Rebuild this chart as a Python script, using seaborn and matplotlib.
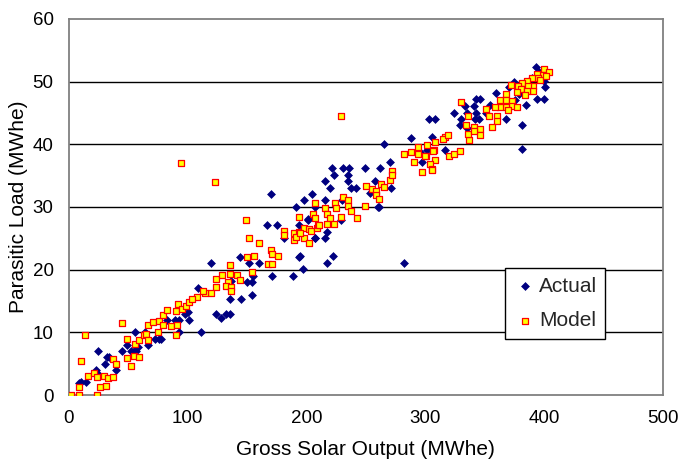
import numpy as np
import pandas as pd
import matplotlib
matplotlib.use("Agg")
import matplotlib.pyplot as plt
import seaborn as sns

# === Data (Gross Solar Output vs Parasitic Load, MWhe) ===
actual_x = [9, 10, 14.5, 22.6, 23.5, 25, 30.5, 32, 34, 39.5, 45, 49, 52, 55, 57, 55.5, 58, 64, 73, 76, 78, 67,
            83, 89.5, 93, 93, 98, 100, 101, 111, 124, 132, 136, 128,
            170, 205, 198, 191, 201.5, 167, 175, 181, 207, 194, 203, 144.5, 160, 152, 120, 194, 197, 189, 171,
            155, 154, 150, 154, 137, 109, 145, 136,
            265, 270.5, 262, 249, 236, 231, 222, 223, 235.5, 216, 235, 258, 220, 238, 242, 271, 216, 207, 260,
            229, 217, 216, 207, 230, 253.7, 261, 201, 222.8, 217, 194.6, 282,
            288, 303, 308, 306, 301.5, 317, 297, 296,
            393.5, 397, 400, 401, 375, 370.5, 394, 400, 385, 359.5, 375.5, 367, 355, 346.5, 343, 341.5, 334,
            343, 351.5, 335, 324, 330, 342, 345, 368, 329, 335, 343, 381.5, 382, 390, 388, 379, 396]
actual_y = [1.9, 2.1, 2.0, 4.0, 3.5, 7.0, 4.9, 6.0, 6.0, 4.0, 7.0, 8.0, 7.1, 7.1, 7.1, 10.1, 7.7, 10.1, 9.0, 9.0, 9.0, 8.0,
            12.0, 12.0, 12.0, 10.1, 13.0, 13.3, 12.0, 10.0, 13.0, 13.0, 13.0, 12.3,
            32.1, 32.1, 31.1, 30.0, 28.1, 27.1, 27.1, 25.0, 25.1, 27.1, 26.3, 22.0, 21.1, 21.0, 21.0, 22.0, 20.1, 19.0, 19.0,
            19.0, 18.1, 18.1, 16.0, 18.2, 17.1, 15.3, 15.3,
            40.1, 37.1, 36.2, 36.2, 36.2, 36.2, 36.2, 35.1, 35.1, 34.1, 34.1, 34.1, 33.1, 33.1, 33.1, 33.1, 31.1, 30.0, 30.0,
            28.0, 26.0, 25.1, 25.1, 31.1, 32.2, 30.0, 28.0, 22.1, 21.0, 22.1, 21.0,
            41.0, 44.1, 44.1, 41.1, 39.1, 39.1, 37.1, 38.8,
            52.3, 50.9, 50.1, 49.2, 49.9, 49.1, 47.2, 47.2, 46.2, 48.2, 47.1, 46.1, 46.3, 47.2, 47.2, 46.1, 46.1,
            45.0, 45.0, 45.0, 45.0, 44.1, 44.1, 44.1, 44.1, 43.1, 42.6, 42.3, 43.1, 39.2, 50.5, 49.0, 48.0, 51.5]

model_x = [2, 9, 24, 9, 26, 31, 16, 21, 24, 30, 33, 37, 10, 14, 37, 40, 45, 49, 49, 52, 55, 59, 56, 59, 63, 65, 67,
           67, 71, 76, 79, 75, 79, 83, 86, 90, 91, 92, 90, 95, 99, 101,
           94.5, 123, 149.5, 152, 160, 170, 171, 176, 156, 150, 168, 171, 136, 124, 129, 134, 136, 142, 144, 154,
           124, 132, 137, 137, 120, 115, 113, 108, 103.5, 181, 181, 190, 190, 194, 191, 194, 198, 198, 202, 202,
           204, 205.5, 207, 209, 207, 210,
           229, 224, 225, 231, 235.5, 235.5, 238, 216, 217, 220, 229, 242.5, 249.5, 217, 223, 210.5, 195, 250, 255,
           259, 263, 265, 258.5, 261.5, 270.5, 272, 272,
           282, 288, 294, 294, 291, 317, 315.5, 308.5, 307.5, 301, 308.5, 320, 304, 306, 301.5, 307, 300, 297, 306,
           324, 329, 337, 319,
           400, 404, 399, 394, 395, 390, 386, 381.5, 378, 372, 381, 391, 387, 391, 386, 377, 384, 368, 363, 368,
           373.5, 373, 377, 368, 363, 359, 351.5, 370, 330.5, 354, 360.5, 360.5, 336.5, 334.5, 341.5, 346.5,
           346.5, 336, 341.5, 356.5, 397, 402]
model_y = [0, 0, 0, 1.3, 1.3, 1.5, 3.0, 3.5, 2.8, 3.0, 2.7, 2.9, 5.5, 9.5, 5.7, 4.9, 11.5, 8.9, 5.9, 4.7, 6.3, 6.0, 8.1, 8.8, 9.6, 9.7, 8.8,
           11.2, 11.6, 11.8, 12.8, 10.1, 11.1, 13.6, 11.0, 13.4, 11.1, 14.6, 9.5, 13.8, 14.2, 14.9,
           37.0, 34.0, 28.0, 25.0, 24.3, 23.2, 22.5, 22.2, 22.1, 22.0, 20.9, 20.9, 20.8, 18.5, 19.1, 18.0, 19.3, 19.2, 18.4, 19.6,
           17.3, 17.4, 17.2, 16.6, 16.2, 16.2, 16.6, 15.6, 15.3, 26.2, 25.5, 25.9, 24.7, 26.0, 25.2, 28.4, 26.7, 25.1, 26.5, 24.3,
           26.2, 28.8, 28.2, 26.6, 30.6, 27.1,
           44.5, 30.6, 29.9, 31.6, 31.1, 30.1, 29.4, 29.9, 28.8, 28.3, 28.4, 28.3, 30.1, 27.3, 27.3, 27.1, 25.9, 33.3, 32.9,
           32.6, 33.7, 33.2, 31.9, 31.2, 34.3, 35.7, 35.1,
           38.5, 38.8, 39.5, 38.5, 37.1, 41.1, 40.8, 40.4, 39.1, 38.1, 37.5, 38.1, 36.8, 36.1, 39.9, 39.0, 38.2, 35.6, 35.9,
           38.5, 39.0, 40.7, 41.5,
           52.0, 51.6, 51.0, 51.2, 50.6, 50.5, 50.1, 49.8, 49.3, 49.4, 48.8, 49.3, 49.3, 48.5, 48.5, 48.4, 47.8, 48.1, 47.1, 47.1,
           46.9, 46.1, 45.9, 46.0, 45.9, 45.9, 45.7, 45.5, 46.8, 44.5, 44.5, 43.7, 44.5, 43.1, 42.8, 42.4,
           41.5, 41.7, 42.1, 42.8, 50.2, 50.9]

x_ticks = [0, 100, 200, 300, 400, 500]
y_ticks = [0, 10, 20, 30, 40, 50, 60]

df_actual = pd.DataFrame({"Gross": actual_x, "Parasitic": actual_y})
df_model = pd.DataFrame({"Gross": model_x, "Parasitic": model_y})

# === Plot ===
sns.set_style("white")
plt.rcParams['font.family'] = ['Liberation Sans', 'DejaVu Sans']

fig = plt.figure(figsize=(6.81, 4.62), dpi=100)
ax = fig.add_axes([0.101, 0.145, 0.872, 0.814])

for y in y_ticks[1:-1]:
    ax.axhline(y, color='black', lw=1.0, zorder=0)

sns.scatterplot(data=df_actual, x="Gross", y="Parasitic", ax=ax, marker='D', s=16,
                color='#000080', edgecolor='#000080', linewidth=0.5, label="Actual", zorder=2)
sns.scatterplot(data=df_model, x="Gross", y="Parasitic", ax=ax, marker='s', s=24,
                color='#FFFF00', edgecolor='#FF0000', linewidth=0.9, label="Model", zorder=3)

ax.set_xlim(0, 500)
ax.set_ylim(0, 60)
ax.set_xticks(x_ticks)
ax.set_yticks(y_ticks)
ax.tick_params(axis='both', direction='out', length=5, width=1, color='#808080',
               labelsize=13.5, labelcolor='black', pad=6)
for s in ax.spines.values():
    s.set_color('#808080')
    s.set_linewidth(1.3)
ax.set_xlabel("Gross Solar Output (MWhe)", fontsize=15, labelpad=9, color='black')
ax.set_ylabel("Parasitic Load (MWhe)", fontsize=15, labelpad=3, color='black')

leg = ax.legend(loc='upper left', bbox_to_anchor=(0.734, 0.337), fontsize=15, frameon=True,
                fancybox=False, borderpad=0.4, handletextpad=0.05, labelspacing=0.75,
                handlelength=1.2, borderaxespad=0)
leg.get_frame().set_edgecolor('black')
leg.get_frame().set_linewidth(1.0)
leg.get_frame().set_alpha(1)

plt.savefig("out.png", dpi=100)
